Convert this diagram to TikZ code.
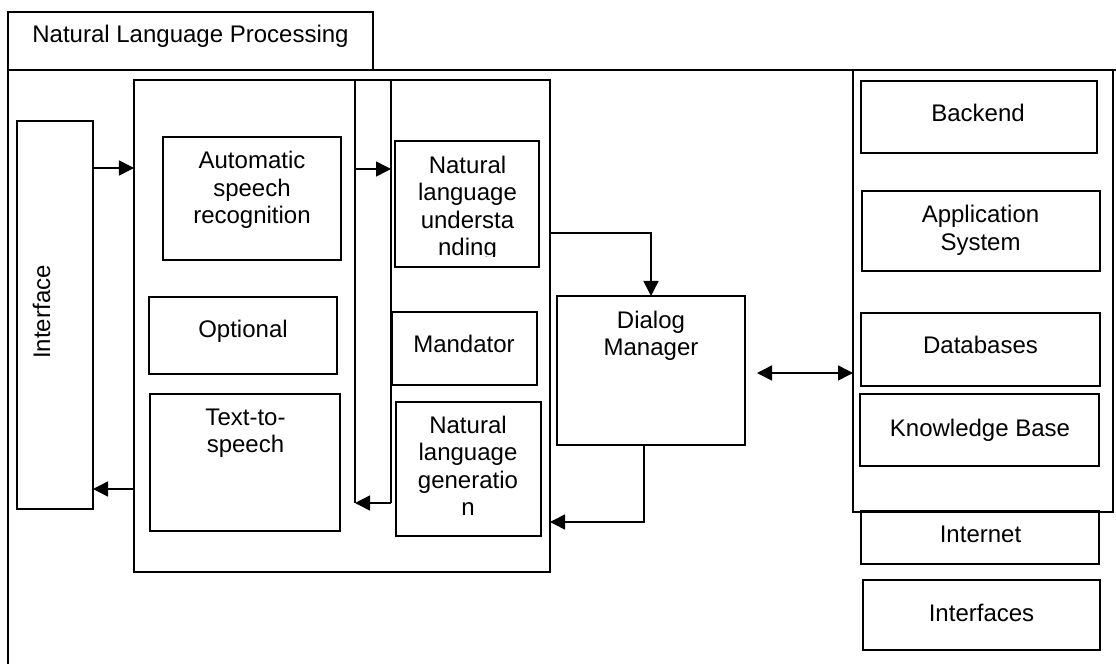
\documentclass[tikz,border=0pt]{standalone}
\usepackage{fontspec}
\setmainfont{Liberation Sans}
\usetikzlibrary{arrows.meta}
\newcommand{\stack}[1]{\begin{tabular}[t]{@{}c@{}}#1\end{tabular}}
\begin{document}
\begin{tikzpicture}[x=1bp,y=-1bp,
  panel/.style={draw, line width=1.6bp, inner sep=0pt, outer sep=0pt},
  lbl/.style={anchor=base, inner sep=0pt, outer sep=0pt,
              font=\fontsize{24bp}{27.3bp}\selectfont},
  wire/.style={line width=1.5bp},
  tip/.tip={Triangle[length=15bp,width=15bp]},
  arr/.style={wire, -tip},
  darr/.style={wire, tip-tip}]
\useasboundingbox (0,0) rectangle (1116,664);

% title tab and the open outer frame
\node[panel, minimum width=365bp, minimum height=58bp] (title) at (190.5,41) {};
\node[lbl] (titleT) at (190.5,43) {Natural Language Processing};
\coordinate (frameR) at (1116,70);
\coordinate (frameB) at (8,666);
\draw[panel] (frameR) -- (title.south west) -- (frameB);

% interface column
\node[panel, minimum width=76bp, minimum height=388bp] (iface) at (55,315) {};
\node[lbl, rotate=90] (ifaceT) at (50,312) {Interface};

% speech / language processing block
\node[panel, minimum width=416bp, minimum height=492bp] (nlp) at (342,326) {};
\node[panel, minimum width=178bp, minimum height=123bp] (asr) at (252,198.5) {};
\node[lbl] (asrT) at (252,169) {\stack{Automatic\\speech\\recognition}};
\node[panel, minimum width=188bp, minimum height=77bp] (opt) at (243,335.5) {};
\node[lbl] (optT) at (243,337) {Optional};
\node[panel, minimum width=190bp, minimum height=137bp] (tts) at (245,462.5) {};
\node[lbl] (ttsT) at (245.5,425) {\stack{Text-to-\\speech}};

\node[panel, minimum width=144bp, minimum height=126bp] (nlu) at (467,204) {};
\begin{scope}
  \clip (395,141) rectangle (539,256.5);
  \node[lbl] (nluT) at (467.5,173.5) {\stack{Natural\\language\\understa\\nding}};
\end{scope}
\node[panel, minimum width=145bp, minimum height=73bp] (mand) at (464.5,348.5) {};
\node[lbl] (mandT) at (464,352) {Mandator};
\node[panel, minimum width=145bp, minimum height=134bp] (nlg) at (468.5,469) {};
\node[lbl] (nlgT) at (468,433.5) {\stack{Natural\\language\\generatio\\n}};

% dialog manager
\node[panel, minimum width=188bp, minimum height=149bp] (dm) at (651,370.5) {};
\node[lbl] (dmT) at (651,328) {\stack{Dialog\\Manager}};

% back-end column
\node[panel, minimum width=260bp, minimum height=442bp] (back) at (983,291) {};
\node[panel, minimum width=236bp, minimum height=72bp] (backend) at (979,117) {};
\node[lbl] (backendT) at (978,122) {Backend};
\node[panel, minimum width=238bp, minimum height=80bp] (app) at (981,231) {};
\node[lbl] (appT) at (980.5,223) {\stack{Application\\System}};
\node[panel, minimum width=239bp, minimum height=73bp] (db) at (980.5,349.5) {};
\node[lbl] (dbT) at (980.5,353) {Databases};
\node[panel, minimum width=239bp, minimum height=72bp] (kb) at (979.5,430) {};
\node[lbl] (kbT) at (980,436) {Knowledge Base};
\node[panel, minimum width=238bp, minimum height=53bp] (inet) at (980,537.5) {};
\node[lbl] (inetT) at (980.5,542) {Internet};
\node[panel, minimum width=237bp, minimum height=70bp] (ifs) at (981.5,615) {};
\node[lbl] (ifsT) at (981.5,621) {Interfaces};

% routing coordinates
\coordinate (inY) at (0,168);
\coordinate (outY) at (0,489);
\coordinate (s1t) at (355,80);
\coordinate (s1b) at (355,503);
\coordinate (s2t) at (391,80);
\coordinate (s2b) at (391,503);
\coordinate (asrY) at (0,169);
\coordinate (nluY) at (0,233);
\coordinate (nlgY) at (0,522);
\coordinate (dmX) at (644,0);
\coordinate (dbL) at (757,373);

% connectors
\draw[arr] (iface.east |- inY) -- (nlp.west |- inY);
\draw[arr] (nlp.west |- outY) -- (iface.east |- outY);
\draw[wire] (s1t) -- (s1b);
\draw[wire] (s2t) -- (s2b);
\draw[arr] (s1t |- asrY) -- (s2t |- asrY);
\draw[arr] (s2b) -- (s1b);
\draw[arr] (nlp.east |- nluY) -| (dm.north);
\draw[arr] (dm.south -| dmX) |- (nlp.east |- nlgY);
\draw[darr] (dbL) -- (back.west |- dbL);
\end{tikzpicture}
\end{document}
